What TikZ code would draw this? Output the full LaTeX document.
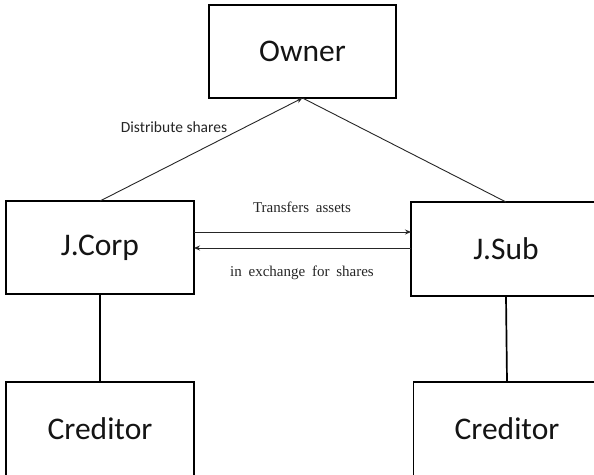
\documentclass[tikz,border=0pt]{standalone}
\usepackage{fontspec}
\setmainfont{Carlito}
\newfontfamily\serifl{Liberation Serif}
\usetikzlibrary{arrows.meta,calc}
\begin{document}
\begin{tikzpicture}[x=1pt,y=-1pt,
  box/.style={draw=black,line width=1.7pt,inner sep=0pt,outer sep=0pt,
    font=\fontsize{31.5}{36}\selectfont,text=black!92},
  conn/.style={draw=black!85,line width=0.9pt},
  arr/.style={conn,-{Stealth[length=6pt,width=5pt]}},
  lbl/.style={font=\fontsize{15.5}{18}\selectfont,text=black!85,inner sep=0pt},
  slbl/.style={font=\serifl\fontsize{15}{18}\selectfont,text=black!85,inner sep=0pt,
    execute at begin node={\spaceskip=0.45em plus 0.1em}}]
\path[use as bounding box] (0,0) rectangle (594,474);
\clip (0,0) rectangle (594,474);
\fill[white] (0,0) rectangle (594,474);
\node[box,minimum width=187pt,minimum height=93pt] (owner) at (302.5,51.5) {Owner};
\node[box,minimum width=188pt,minimum height=93pt] (jcorp) at (100,247.5) {J.Corp};
\node[box,minimum width=190pt,minimum height=94pt] (jsub) at (506,249) {J.Sub};
\node[box,minimum width=188pt,minimum height=94pt] (cred1) at (100,429) {Creditor};
\node[box,minimum width=187pt,minimum height=94pt] (cred2) at (507,429) {Creditor};
% connectors
\draw[arr] (jcorp.north) -- (owner.south);
\draw[conn] (owner.south) -- (jsub.north);
\draw[arr] ([yshift=15.5pt]jcorp.east) -- ([yshift=15.5pt]jcorp.east -| jsub.west);
\draw[arr] ([yshift=-0.5pt]jcorp.east -| jsub.west) -- ([yshift=-0.5pt]jcorp.east);
\draw[conn,draw=black,line width=1.7pt] (jcorp.south) -- (cred1.north);
\draw[conn,draw=black,line width=1.7pt] (jsub.south) -- (cred2.north);
% labels
\node[lbl] (l1) at (174,127) {Distribute shares};
\node[slbl] (l2) at (302,207) {Transfers assets};
\node[slbl] (l3) at (302,273) {in exchange for shares};
\end{tikzpicture}
\end{document}
